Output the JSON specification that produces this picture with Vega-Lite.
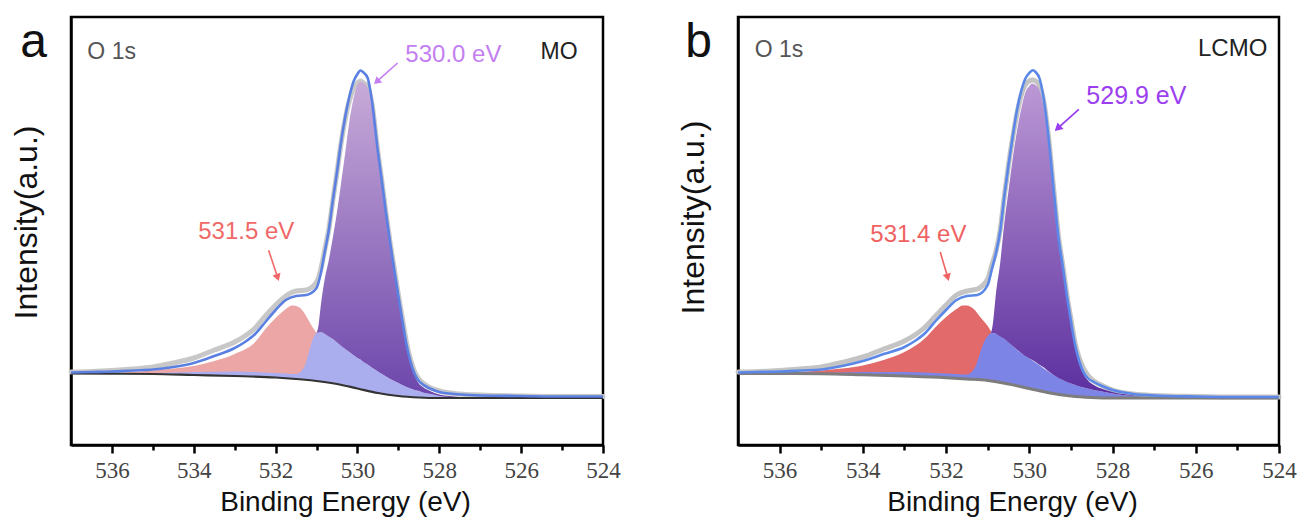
{
"$schema": "https://vega.github.io/schema/vega-lite/v6.json",
"background": "white",
"padding": {"left": 8, "top": 15, "right": 5, "bottom": 5},
"spacing": 53,
"config": {"view": {"stroke": "#000", "strokeWidth": 2.5}, "axis": {"grid": false}},
"datasets": {
"a": [
{"s":"raw","be":537,"v":73},{"s":"raw","be":536.5,"v":73.5},{"s":"raw","be":536,"v":74.5},{"s":"raw","be":535.5,"v":76},{"s":"raw","be":535,"v":78},{"s":"raw","be":534.5,"v":82},{"s":"raw","be":534,"v":87},{"s":"raw","be":533.5,"v":95},{"s":"raw","be":533,"v":103},{"s":"raw","be":532.75,"v":109},{"s":"raw","be":532.5,"v":117},{"s":"raw","be":532.25,"v":129},{"s":"raw","be":532,"v":140},{"s":"raw","be":531.75,"v":149},{"s":"raw","be":531.5,"v":154},{"s":"raw","be":531.25,"v":155},{"s":"raw","be":531,"v":163},{"s":"raw","be":530.9,"v":175},{"s":"raw","be":530.8,"v":195},{"s":"raw","be":530.7,"v":216},{"s":"raw","be":530.6,"v":245},{"s":"raw","be":530.5,"v":273},{"s":"raw","be":530.4,"v":302},{"s":"raw","be":530.3,"v":326},{"s":"raw","be":530.2,"v":344},{"s":"raw","be":530.1,"v":356},{"s":"raw","be":530,"v":362},{"s":"raw","be":529.93,"v":364},{"s":"raw","be":529.85,"v":362},{"s":"raw","be":529.75,"v":358},{"s":"raw","be":529.65,"v":342},{"s":"raw","be":529.5,"v":293},{"s":"raw","be":529.4,"v":263},{"s":"raw","be":529.3,"v":231},{"s":"raw","be":529.2,"v":202},{"s":"raw","be":529.1,"v":176},{"s":"raw","be":529,"v":150},{"s":"raw","be":528.9,"v":126},{"s":"raw","be":528.8,"v":102},{"s":"raw","be":528.7,"v":85},{"s":"raw","be":528.6,"v":73},{"s":"raw","be":528.5,"v":66},{"s":"raw","be":528.4,"v":62},{"s":"raw","be":528.3,"v":59},{"s":"raw","be":528.2,"v":57},{"s":"raw","be":528,"v":54},{"s":"raw","be":527.5,"v":51},{"s":"raw","be":527,"v":50},{"s":"raw","be":526,"v":49},{"s":"raw","be":525,"v":48.5},{"s":"raw","be":524,"v":48.5},
{"s":"bg","be":537,"v":71.5},{"s":"bg","be":536,"v":71.3},{"s":"bg","be":535,"v":71},{"s":"bg","be":534,"v":70},{"s":"bg","be":533,"v":69},{"s":"bg","be":532,"v":67.5},{"s":"bg","be":531.5,"v":66},{"s":"bg","be":531,"v":64},{"s":"bg","be":530.5,"v":61},{"s":"bg","be":530,"v":56.5},{"s":"bg","be":529.5,"v":52},{"s":"bg","be":529,"v":49},{"s":"bg","be":528.5,"v":47.5},{"s":"bg","be":528,"v":47},{"s":"bg","be":527,"v":47},{"s":"bg","be":524,"v":47},
{"s":"pink","be":537,"v":71.5,"v2":71.5},{"s":"pink","be":536,"v":72,"v2":71.3},{"s":"pink","be":535.5,"v":73,"v2":71.2},{"s":"pink","be":535,"v":74.5,"v2":71},{"s":"pink","be":534.5,"v":76.5,"v2":70.5},{"s":"pink","be":534,"v":79,"v2":70},{"s":"pink","be":533.5,"v":84,"v2":69.5},{"s":"pink","be":533,"v":91,"v2":69},{"s":"pink","be":532.5,"v":103,"v2":68.3},{"s":"pink","be":532.25,"v":116,"v2":67.9},{"s":"pink","be":532,"v":127,"v2":67.5},{"s":"pink","be":531.75,"v":136,"v2":66.8},{"s":"pink","be":531.6,"v":139.5,"v2":66.3},{"s":"pink","be":531.5,"v":139,"v2":66},{"s":"pink","be":531.4,"v":137,"v2":65.6},{"s":"pink","be":531.3,"v":132,"v2":65.2},{"s":"pink","be":531.2,"v":125,"v2":64.8},{"s":"pink","be":531.1,"v":118,"v2":64.4},{"s":"pink","be":531,"v":112,"v2":64},{"s":"pink","be":530.9,"v":105,"v2":63.4},{"s":"pink","be":530.8,"v":98,"v2":62.8},{"s":"pink","be":530.6,"v":87,"v2":61.6},{"s":"pink","be":530.4,"v":78,"v2":60.2},{"s":"pink","be":530.2,"v":71,"v2":58.5},{"s":"pink","be":530,"v":65,"v2":56.5},{"s":"pink","be":529.8,"v":60,"v2":54.7},{"s":"pink","be":529.6,"v":55,"v2":53},
{"s":"lav","be":537,"v":71.5,"v2":71.5},{"s":"lav","be":535,"v":72,"v2":71},{"s":"lav","be":534,"v":73,"v2":70},{"s":"lav","be":533,"v":73.5,"v2":69},{"s":"lav","be":532,"v":72,"v2":67.5},{"s":"lav","be":531.5,"v":71,"v2":66},{"s":"lav","be":531.3,"v":78,"v2":65.2},{"s":"lav","be":531.2,"v":91,"v2":64.8},{"s":"lav","be":531.1,"v":105,"v2":64.4},{"s":"lav","be":531,"v":112,"v2":64},{"s":"lav","be":530.9,"v":113,"v2":63.4},{"s":"lav","be":530.8,"v":111,"v2":62.8},{"s":"lav","be":530.6,"v":106,"v2":61.6},{"s":"lav","be":530.4,"v":99,"v2":60.2},{"s":"lav","be":530.2,"v":93,"v2":58.5},{"s":"lav","be":530,"v":87,"v2":56.5},{"s":"lav","be":529.8,"v":82,"v2":54.7},{"s":"lav","be":529.6,"v":76,"v2":53},{"s":"lav","be":529.4,"v":71,"v2":51.4},{"s":"lav","be":529.2,"v":66,"v2":50.2},{"s":"lav","be":529,"v":62,"v2":49},{"s":"lav","be":528.8,"v":58,"v2":48.4},{"s":"lav","be":528.6,"v":55,"v2":47.8},{"s":"lav","be":528.4,"v":52.5,"v2":47.4},{"s":"lav","be":528.2,"v":51,"v2":47.2},{"s":"lav","be":528,"v":49,"v2":47},{"s":"lav","be":527.6,"v":47.5,"v2":47},{"s":"lav","be":527,"v":47,"v2":47},
{"s":"pur","be":531,"v":112,"v2":112},{"s":"pur","be":530.95,"v":120,"v2":112.5},{"s":"pur","be":530.9,"v":138,"v2":113},{"s":"pur","be":530.8,"v":166,"v2":111},{"s":"pur","be":530.7,"v":185,"v2":108.5},{"s":"pur","be":530.6,"v":208,"v2":106},{"s":"pur","be":530.5,"v":233,"v2":102.5},{"s":"pur","be":530.4,"v":262,"v2":99},{"s":"pur","be":530.3,"v":292,"v2":96},{"s":"pur","be":530.2,"v":323,"v2":93},{"s":"pur","be":530.1,"v":346,"v2":90},{"s":"pur","be":530,"v":360,"v2":87},{"s":"pur","be":529.93,"v":363,"v2":85.5},{"s":"pur","be":529.85,"v":362,"v2":83},{"s":"pur","be":529.75,"v":357,"v2":80.5},{"s":"pur","be":529.65,"v":338,"v2":77.5},{"s":"pur","be":529.5,"v":289,"v2":73.5},{"s":"pur","be":529.4,"v":259,"v2":71},{"s":"pur","be":529.3,"v":228,"v2":68.5},{"s":"pur","be":529.2,"v":199,"v2":66},{"s":"pur","be":529.1,"v":172,"v2":64},{"s":"pur","be":529,"v":146,"v2":62},{"s":"pur","be":528.9,"v":121,"v2":60},{"s":"pur","be":528.8,"v":97,"v2":58},{"s":"pur","be":528.7,"v":80,"v2":56.5},{"s":"pur","be":528.6,"v":69,"v2":55},{"s":"pur","be":528.5,"v":61.5,"v2":54},{"s":"pur","be":528.4,"v":58,"v2":52.5},{"s":"pur","be":528.2,"v":53.5,"v2":51},{"s":"pur","be":528,"v":50.5,"v2":49},{"s":"pur","be":527.75,"v":49,"v2":48},{"s":"pur","be":527.5,"v":48,"v2":47.5},{"s":"pur","be":527,"v":47.2,"v2":47},{"s":"pur","be":526.5,"v":47,"v2":47},
{"s":"env","be":537,"v":72.5},{"s":"env","be":536.5,"v":73},{"s":"env","be":536,"v":73.5},{"s":"env","be":535.5,"v":74.5},{"s":"env","be":535,"v":75.5},{"s":"env","be":534.5,"v":78},{"s":"env","be":534,"v":82},{"s":"env","be":533.5,"v":89},{"s":"env","be":533,"v":97},{"s":"env","be":532.75,"v":103},{"s":"env","be":532.5,"v":111},{"s":"env","be":532.25,"v":123},{"s":"env","be":532,"v":135},{"s":"env","be":531.75,"v":145},{"s":"env","be":531.5,"v":149},{"s":"env","be":531.25,"v":150},{"s":"env","be":531,"v":157},{"s":"env","be":530.9,"v":171},{"s":"env","be":530.8,"v":193},{"s":"env","be":530.7,"v":215},{"s":"env","be":530.6,"v":245},{"s":"env","be":530.5,"v":273},{"s":"env","be":530.4,"v":303},{"s":"env","be":530.3,"v":328},{"s":"env","be":530.2,"v":348},{"s":"env","be":530.1,"v":363},{"s":"env","be":530,"v":371},{"s":"env","be":529.93,"v":374.5},{"s":"env","be":529.85,"v":372.5},{"s":"env","be":529.75,"v":367},{"s":"env","be":529.65,"v":345},{"s":"env","be":529.5,"v":293},{"s":"env","be":529.4,"v":263},{"s":"env","be":529.3,"v":231},{"s":"env","be":529.2,"v":202},{"s":"env","be":529.1,"v":175},{"s":"env","be":529,"v":149},{"s":"env","be":528.9,"v":124},{"s":"env","be":528.8,"v":100},{"s":"env","be":528.7,"v":83},{"s":"env","be":528.6,"v":71},{"s":"env","be":528.5,"v":64},{"s":"env","be":528.4,"v":60.5},{"s":"env","be":528.3,"v":58},{"s":"env","be":528.2,"v":56},{"s":"env","be":528,"v":53},{"s":"env","be":527.75,"v":51.5},{"s":"env","be":527.5,"v":50.5},{"s":"env","be":527,"v":49.5},{"s":"env","be":526,"v":49},{"s":"env","be":525,"v":48.5},{"s":"env","be":524,"v":48.5}
],
"b": [
{"s":"raw","be":537,"v":73},{"s":"raw","be":536.5,"v":73.5},{"s":"raw","be":536,"v":74.5},{"s":"raw","be":535.5,"v":76},{"s":"raw","be":535,"v":78},{"s":"raw","be":534.5,"v":82.5},{"s":"raw","be":534,"v":88},{"s":"raw","be":533.5,"v":96},{"s":"raw","be":533,"v":104},{"s":"raw","be":532.75,"v":110},{"s":"raw","be":532.5,"v":118},{"s":"raw","be":532.25,"v":129},{"s":"raw","be":532,"v":140},{"s":"raw","be":531.75,"v":150},{"s":"raw","be":531.5,"v":154},{"s":"raw","be":531.25,"v":156},{"s":"raw","be":531,"v":166},{"s":"raw","be":530.9,"v":180},{"s":"raw","be":530.8,"v":194},{"s":"raw","be":530.7,"v":215},{"s":"raw","be":530.6,"v":249},{"s":"raw","be":530.5,"v":280},{"s":"raw","be":530.4,"v":307},{"s":"raw","be":530.3,"v":331},{"s":"raw","be":530.2,"v":349},{"s":"raw","be":530.1,"v":360},{"s":"raw","be":530,"v":364},{"s":"raw","be":529.92,"v":365},{"s":"raw","be":529.85,"v":364},{"s":"raw","be":529.75,"v":359},{"s":"raw","be":529.65,"v":343},{"s":"raw","be":529.55,"v":312},{"s":"raw","be":529.4,"v":250},{"s":"raw","be":529.3,"v":209},{"s":"raw","be":529.2,"v":181},{"s":"raw","be":529.1,"v":151},{"s":"raw","be":529,"v":126},{"s":"raw","be":528.9,"v":102},{"s":"raw","be":528.8,"v":87},{"s":"raw","be":528.7,"v":77},{"s":"raw","be":528.6,"v":70},{"s":"raw","be":528.45,"v":64},{"s":"raw","be":528.2,"v":58.5},{"s":"raw","be":528,"v":55},{"s":"raw","be":527.5,"v":51},{"s":"raw","be":527,"v":49.5},{"s":"raw","be":526,"v":48.5},{"s":"raw","be":525,"v":48},{"s":"raw","be":524,"v":48},
{"s":"bg","be":537,"v":71.5},{"s":"bg","be":536,"v":71.4},{"s":"bg","be":535,"v":71.3},{"s":"bg","be":534,"v":70.3},{"s":"bg","be":533,"v":69},{"s":"bg","be":532,"v":67.3},{"s":"bg","be":531.5,"v":66},{"s":"bg","be":531,"v":64.5},{"s":"bg","be":530.5,"v":61},{"s":"bg","be":530,"v":56.5},{"s":"bg","be":529.5,"v":52},{"s":"bg","be":529,"v":49},{"s":"bg","be":528.5,"v":47.5},{"s":"bg","be":528,"v":47},{"s":"bg","be":527,"v":47},{"s":"bg","be":524,"v":47},
{"s":"pink","be":537,"v":71.5,"v2":71.5},{"s":"pink","be":536,"v":72,"v2":71.4},{"s":"pink","be":535.5,"v":73,"v2":71.35},{"s":"pink","be":535,"v":74.5,"v2":71.3},{"s":"pink","be":534.5,"v":76.5,"v2":70.8},{"s":"pink","be":534,"v":79.5,"v2":70.3},{"s":"pink","be":533.5,"v":85,"v2":69.6},{"s":"pink","be":533,"v":93,"v2":69},{"s":"pink","be":532.5,"v":107,"v2":68.2},{"s":"pink","be":532.25,"v":118,"v2":67.7},{"s":"pink","be":532,"v":128,"v2":67.3},{"s":"pink","be":531.75,"v":136,"v2":66.6},{"s":"pink","be":531.6,"v":139.5,"v2":66.2},{"s":"pink","be":531.5,"v":139.5,"v2":66},{"s":"pink","be":531.4,"v":138,"v2":65.7},{"s":"pink","be":531.3,"v":134.5,"v2":65.4},{"s":"pink","be":531.2,"v":129,"v2":65.1},{"s":"pink","be":531.1,"v":124,"v2":64.8},{"s":"pink","be":531,"v":119,"v2":64.5},{"s":"pink","be":530.9,"v":112,"v2":63.8},{"s":"pink","be":530.8,"v":104,"v2":63.1},{"s":"pink","be":530.6,"v":91,"v2":61.8},{"s":"pink","be":530.4,"v":80,"v2":60.3},{"s":"pink","be":530.2,"v":72,"v2":58.6},{"s":"pink","be":530,"v":65,"v2":56.5},{"s":"pink","be":529.8,"v":60,"v2":54.7},{"s":"pink","be":529.6,"v":55,"v2":53},
{"s":"lav","be":537,"v":71.5,"v2":71.5},{"s":"lav","be":535,"v":72,"v2":71.3},{"s":"lav","be":534,"v":73,"v2":70.3},{"s":"lav","be":533,"v":73,"v2":69},{"s":"lav","be":532,"v":71.5,"v2":67.3},{"s":"lav","be":531.5,"v":70.5,"v2":66},{"s":"lav","be":531.3,"v":78,"v2":65.4},{"s":"lav","be":531.2,"v":90,"v2":65.1},{"s":"lav","be":531.1,"v":102,"v2":64.8},{"s":"lav","be":531,"v":109,"v2":64.5},{"s":"lav","be":530.9,"v":112,"v2":63.8},{"s":"lav","be":530.8,"v":111,"v2":63.1},{"s":"lav","be":530.6,"v":106,"v2":61.8},{"s":"lav","be":530.4,"v":99,"v2":60.3},{"s":"lav","be":530.2,"v":92,"v2":58.6},{"s":"lav","be":530,"v":86.5,"v2":56.5},{"s":"lav","be":529.8,"v":81,"v2":54.7},{"s":"lav","be":529.6,"v":75,"v2":53},{"s":"lav","be":529.4,"v":69.5,"v2":51.3},{"s":"lav","be":529.2,"v":65,"v2":50.2},{"s":"lav","be":529,"v":61.5,"v2":49},{"s":"lav","be":528.8,"v":58.5,"v2":48.4},{"s":"lav","be":528.6,"v":56.5,"v2":47.8},{"s":"lav","be":528.4,"v":54.5,"v2":47.4},{"s":"lav","be":528.2,"v":53,"v2":47.2},{"s":"lav","be":528,"v":51.5,"v2":47},{"s":"lav","be":527.5,"v":49,"v2":47},{"s":"lav","be":527,"v":47.5,"v2":47},{"s":"lav","be":526.5,"v":47,"v2":47},
{"s":"pur","be":530.92,"v":112,"v2":112},{"s":"pur","be":530.88,"v":120,"v2":112},{"s":"pur","be":530.8,"v":152,"v2":111},{"s":"pur","be":530.7,"v":182,"v2":108.5},{"s":"pur","be":530.6,"v":222,"v2":106},{"s":"pur","be":530.5,"v":254,"v2":102.5},{"s":"pur","be":530.4,"v":286,"v2":99},{"s":"pur","be":530.3,"v":313,"v2":95.5},{"s":"pur","be":530.2,"v":335,"v2":92},{"s":"pur","be":530.1,"v":352,"v2":89},{"s":"pur","be":530,"v":359,"v2":86.5},{"s":"pur","be":529.93,"v":361.5,"v2":85},{"s":"pur","be":529.85,"v":360,"v2":83},{"s":"pur","be":529.75,"v":354,"v2":80},{"s":"pur","be":529.65,"v":336,"v2":77.5},{"s":"pur","be":529.55,"v":305,"v2":74},{"s":"pur","be":529.4,"v":244,"v2":69.5},{"s":"pur","be":529.3,"v":204,"v2":67},{"s":"pur","be":529.2,"v":176,"v2":65},{"s":"pur","be":529.1,"v":146,"v2":63},{"s":"pur","be":529,"v":121,"v2":61.5},{"s":"pur","be":528.9,"v":97,"v2":60},{"s":"pur","be":528.8,"v":81,"v2":58.5},{"s":"pur","be":528.7,"v":71,"v2":57.5},{"s":"pur","be":528.6,"v":65,"v2":56.5},{"s":"pur","be":528.45,"v":60,"v2":55},{"s":"pur","be":528.2,"v":55.5,"v2":53},{"s":"pur","be":528,"v":53,"v2":51.5},{"s":"pur","be":527.5,"v":49.5,"v2":49},{"s":"pur","be":527,"v":47.5,"v2":47.5},
{"s":"env","be":537,"v":72.5},{"s":"env","be":536.5,"v":73},{"s":"env","be":536,"v":73.5},{"s":"env","be":535.5,"v":74.5},{"s":"env","be":535,"v":75.5},{"s":"env","be":534.5,"v":79},{"s":"env","be":534,"v":84},{"s":"env","be":533.5,"v":91},{"s":"env","be":533,"v":98},{"s":"env","be":532.75,"v":104},{"s":"env","be":532.5,"v":112},{"s":"env","be":532.25,"v":124},{"s":"env","be":532,"v":135},{"s":"env","be":531.75,"v":145},{"s":"env","be":531.5,"v":149},{"s":"env","be":531.25,"v":150},{"s":"env","be":531,"v":160},{"s":"env","be":530.9,"v":176},{"s":"env","be":530.8,"v":192},{"s":"env","be":530.7,"v":214},{"s":"env","be":530.6,"v":249},{"s":"env","be":530.5,"v":280},{"s":"env","be":530.4,"v":308},{"s":"env","be":530.3,"v":334},{"s":"env","be":530.2,"v":353},{"s":"env","be":530.1,"v":366},{"s":"env","be":530,"v":372},{"s":"env","be":529.92,"v":374.7},{"s":"env","be":529.85,"v":373},{"s":"env","be":529.75,"v":366},{"s":"env","be":529.65,"v":345},{"s":"env","be":529.55,"v":312},{"s":"env","be":529.4,"v":249},{"s":"env","be":529.3,"v":208},{"s":"env","be":529.2,"v":180},{"s":"env","be":529.1,"v":150},{"s":"env","be":529,"v":124},{"s":"env","be":528.9,"v":100},{"s":"env","be":528.8,"v":84},{"s":"env","be":528.7,"v":73},{"s":"env","be":528.6,"v":67},{"s":"env","be":528.45,"v":63},{"s":"env","be":528.2,"v":58},{"s":"env","be":528,"v":55},{"s":"env","be":527.5,"v":51},{"s":"env","be":527,"v":49.5},{"s":"env","be":526,"v":48.5},{"s":"env","be":525,"v":48},{"s":"env","be":524,"v":48}
]
},
"hconcat": [
{
"width": 532, "height": 428,
"data": {"name": "a"},
"resolve": {"axis": {"x": "independent"}},
"encoding": {
 "x": {"field": "be", "type": "quantitative", "scale": {"domain": [524, 537], "reverse": true, "nice": false, "zero": false}, "axis": null},
 "y": {"field": "v", "type": "quantitative", "scale": {"domain": [0, 428], "nice": false, "zero": false},
   "axis": {"title": "Intensity(a.u.)", "labels": false, "ticks": false, "domainColor": "#000", "domainWidth": 2.5, "titleFont": "Liberation Sans", "titleFontSize": 32, "titleFontWeight": "normal", "titleColor": "#111", "titlePadding": 28, "titleY": 205, "grid": false}}
},
"layer": [
 {"transform": [{"filter": "datum.s === 'raw'"}], "mark": {"type": "line", "color": "#c8c8c8", "strokeWidth": 5, "interpolate": "monotone", "strokeCap": "round"},
  "encoding": {
   "x": {"field": "be", "type": "quantitative", "scale": {"domain": [524, 537], "reverse": true, "nice": false, "zero": false},
     "axis": {"orient": "bottom", "values": [536, 534, 532, 530, 528, 526, 524], "tickSize": 8, "tickWidth": 2.5, "tickColor": "#000", "domainColor": "#000", "domainWidth": 2.5, "labelFont": "Liberation Serif", "labelFontSize": 23, "labelColor": "#444", "labelPadding": 6, "labelFlush": false, "labelOverlap": false, "title": "Binding Energy (eV)", "titleFont": "Liberation Sans", "titleFontSize": 28, "titleFontWeight": "normal", "titleColor": "#111", "titlePadding": 6, "titleX": 274, "grid": false}}
  }},
 {"transform": [{"filter": "datum.s === 'pink'"}], "mark": {"type": "area", "color": "#eca6a6", "interpolate": "monotone", "opacity": 1}, "encoding": {"y2": {"field": "v2"}}},
 {"transform": [{"filter": "datum.s === 'lav'"}], "mark": {"type": "area", "color": "#abaeee", "interpolate": "monotone", "opacity": 1}, "encoding": {"y2": {"field": "v2"}}},
 {"transform": [{"filter": "datum.s === 'pur'"}], "mark": {"type": "area", "interpolate": "monotone", "opacity": 1, "color": {"gradient": "linear", "x1": 0, "y1": 1, "x2": 0, "y2": 0, "stops": [{"offset": 0, "color": "#6c46ab"}, {"offset": 1, "color": "#c8aad8"}]}}, "encoding": {"y2": {"field": "v2"}}},
 {"transform": [{"filter": "datum.s === 'bg'"}], "mark": {"type": "line", "color": "#333333", "strokeWidth": 2.2, "interpolate": "monotone"},
  "encoding": {"x": {"field": "be", "type": "quantitative", "scale": {"domain": [524, 537], "reverse": true, "nice": false, "zero": false},
     "axis": {"orient": "bottom", "values": [535, 533, 531, 529, 527, 525], "tickSize": 5, "tickWidth": 2.5, "tickColor": "#000", "labels": false, "domain": false, "title": null, "grid": false}}}},
 {"transform": [{"filter": "datum.s === 'env'"}], "mark": {"type": "line", "color": "#5b80e2", "strokeWidth": 2.6, "interpolate": "monotone"}},
 {"data": {"values": [{"t": "O 1s", "be": 536.6, "v": 386}]}, "mark": {"type": "text", "align": "left", "baseline": "alphabetic", "font": "Liberation Sans", "fontSize": 23, "color": "#555555"}, "encoding": {"text": {"field": "t"}}},
 {"data": {"values": [{"t": "MO", "be": 524.62, "v": 386}]}, "mark": {"type": "text", "align": "right", "baseline": "alphabetic", "font": "Liberation Sans", "fontSize": 23, "color": "#222222"}, "encoding": {"text": {"field": "t"}}},
 {"data": {"values": [{"t": "530.0 eV", "be": 528.83, "v": 383}]}, "mark": {"type": "text", "align": "left", "baseline": "alphabetic", "font": "Liberation Sans", "fontSize": 24, "color": "#c47ef2"}, "encoding": {"text": {"field": "t"}}},
 {"data": {"values": [{"t": "531.5 eV", "be": 533.89, "v": 206}]}, "mark": {"type": "text", "align": "left", "baseline": "alphabetic", "font": "Liberation Sans", "fontSize": 24, "color": "#f06868"}, "encoding": {"text": {"field": "t"}}},
 {"data": {"values": [{"t": "a", "be": 538.24, "v": 388}]}, "mark": {"type": "text", "align": "left", "baseline": "alphabetic", "font": "Liberation Sans", "fontSize": 48, "color": "#111111"}, "encoding": {"text": {"field": "t"}}},
 {"data": {"values": [{"be": 529.02, "v": 382, "be2": 529.53, "v2": 363.3}]}, "mark": {"type": "rule", "color": "#c47ef2", "strokeWidth": 1.6}, "encoding": {"x2": {"field": "be2"}, "y2": {"field": "v2"}}},
 {"data": {"values": [{"be": 529.53, "v": 363.3}]}, "mark": {"type": "point", "shape": "triangle-up", "filled": true, "size": 70, "angle": 228, "color": "#c47ef2", "opacity": 1}, "encoding": {}},
 {"data": {"values": [{"be": 532.17, "v": 194.7, "be2": 531.95, "v2": 167.5}]}, "mark": {"type": "rule", "color": "#f06868", "strokeWidth": 1.6}, "encoding": {"x2": {"field": "be2"}, "y2": {"field": "v2"}}},
 {"data": {"values": [{"be": 531.95, "v": 167.5}]}, "mark": {"type": "point", "shape": "triangle-up", "filled": true, "size": 70, "angle": 161.6, "color": "#f06868", "opacity": 1}, "encoding": {}}
]
},
{
"width": 541, "height": 428,
"data": {"name": "b"},
"resolve": {"axis": {"x": "independent"}},
"encoding": {
 "x": {"field": "be", "type": "quantitative", "scale": {"domain": [524, 537], "reverse": true, "nice": false, "zero": false}, "axis": null},
 "y": {"field": "v", "type": "quantitative", "scale": {"domain": [0, 428], "nice": false, "zero": false},
   "axis": {"title": "Intensity(a.u.)", "labels": false, "ticks": false, "domainColor": "#000", "domainWidth": 2.5, "titleFont": "Liberation Sans", "titleFontSize": 32, "titleFontWeight": "normal", "titleColor": "#111", "titlePadding": 28, "titleY": 200, "grid": false}}
},
"layer": [
 {"transform": [{"filter": "datum.s === 'raw'"}], "mark": {"type": "line", "color": "#c4c4c4", "strokeWidth": 5, "interpolate": "monotone", "strokeCap": "round"},
  "encoding": {
   "x": {"field": "be", "type": "quantitative", "scale": {"domain": [524, 537], "reverse": true, "nice": false, "zero": false},
     "axis": {"orient": "bottom", "values": [536, 534, 532, 530, 528, 526, 524], "tickSize": 8, "tickWidth": 2.5, "tickColor": "#000", "domainColor": "#000", "domainWidth": 2.5, "labelFont": "Liberation Serif", "labelFontSize": 23, "labelColor": "#444", "labelPadding": 6, "labelFlush": false, "labelOverlap": false, "title": "Binding Energy (eV)", "titleFont": "Liberation Sans", "titleFontSize": 28, "titleFontWeight": "normal", "titleColor": "#111", "titlePadding": 6, "titleX": 274, "grid": false}}
  }},
 {"transform": [{"filter": "datum.s === 'pink'"}], "mark": {"type": "area", "color": "#e36a6a", "interpolate": "monotone", "opacity": 1}, "encoding": {"y2": {"field": "v2"}}},
 {"transform": [{"filter": "datum.s === 'lav'"}], "mark": {"type": "area", "color": "#7c84e6", "interpolate": "monotone", "opacity": 1}, "encoding": {"y2": {"field": "v2"}}},
 {"transform": [{"filter": "datum.s === 'pur'"}], "mark": {"type": "area", "interpolate": "monotone", "opacity": 1, "color": {"gradient": "linear", "x1": 0, "y1": 1, "x2": 0, "y2": 0, "stops": [{"offset": 0, "color": "#5b2f9f"}, {"offset": 1, "color": "#bb98d5"}]}}, "encoding": {"y2": {"field": "v2"}}},
 {"transform": [{"filter": "datum.s === 'bg'"}], "mark": {"type": "line", "color": "#7d7d7d", "strokeWidth": 3, "interpolate": "monotone"},
  "encoding": {"x": {"field": "be", "type": "quantitative", "scale": {"domain": [524, 537], "reverse": true, "nice": false, "zero": false},
     "axis": {"orient": "bottom", "values": [535, 533, 531, 529, 527, 525], "tickSize": 5, "tickWidth": 2.5, "tickColor": "#000", "labels": false, "domain": false, "title": null, "grid": false}}}},
 {"transform": [{"filter": "datum.s === 'env'"}], "mark": {"type": "line", "color": "#5b88e8", "strokeWidth": 2.6, "interpolate": "monotone"}},
 {"data": {"values": [{"t": "O 1s", "be": 536.6, "v": 388}]}, "mark": {"type": "text", "align": "left", "baseline": "alphabetic", "font": "Liberation Sans", "fontSize": 23, "color": "#555555"}, "encoding": {"text": {"field": "t"}}},
 {"data": {"values": [{"t": "LCMO", "be": 524.28, "v": 388.7}]}, "mark": {"type": "text", "align": "right", "baseline": "alphabetic", "font": "Liberation Sans", "fontSize": 24, "color": "#222222"}, "encoding": {"text": {"field": "t"}}},
 {"data": {"values": [{"t": "529.9 eV", "be": 528.63, "v": 341.3}]}, "mark": {"type": "text", "align": "left", "baseline": "alphabetic", "font": "Liberation Sans", "fontSize": 25, "color": "#9b3ef0"}, "encoding": {"text": {"field": "t"}}},
 {"data": {"values": [{"t": "531.4 eV", "be": 533.82, "v": 203}]}, "mark": {"type": "text", "align": "left", "baseline": "alphabetic", "font": "Liberation Sans", "fontSize": 24, "color": "#f06262"}, "encoding": {"text": {"field": "t"}}},
 {"data": {"values": [{"t": "b", "be": 538.27, "v": 388}]}, "mark": {"type": "text", "align": "left", "baseline": "alphabetic", "font": "Liberation Sans", "fontSize": 48, "color": "#111111"}, "encoding": {"text": {"field": "t"}}},
 {"data": {"values": [{"be": 528.81, "v": 335.7, "be2": 529.32, "v2": 316.7}]}, "mark": {"type": "rule", "color": "#9b3ef0", "strokeWidth": 1.8}, "encoding": {"x2": {"field": "be2"}, "y2": {"field": "v2"}}},
 {"data": {"values": [{"be": 529.32, "v": 316.7}]}, "mark": {"type": "point", "shape": "triangle-up", "filled": true, "size": 80, "angle": 228, "color": "#9b3ef0", "opacity": 1}, "encoding": {}},
 {"data": {"values": [{"be": 532.14, "v": 193, "be2": 531.96, "v2": 167.6}]}, "mark": {"type": "rule", "color": "#f06262", "strokeWidth": 1.6}, "encoding": {"x2": {"field": "be2"}, "y2": {"field": "v2"}}},
 {"data": {"values": [{"be": 531.96, "v": 167.6}]}, "mark": {"type": "point", "shape": "triangle-up", "filled": true, "size": 70, "angle": 163.7, "color": "#f06262", "opacity": 1}, "encoding": {}}
]
}
]
}
